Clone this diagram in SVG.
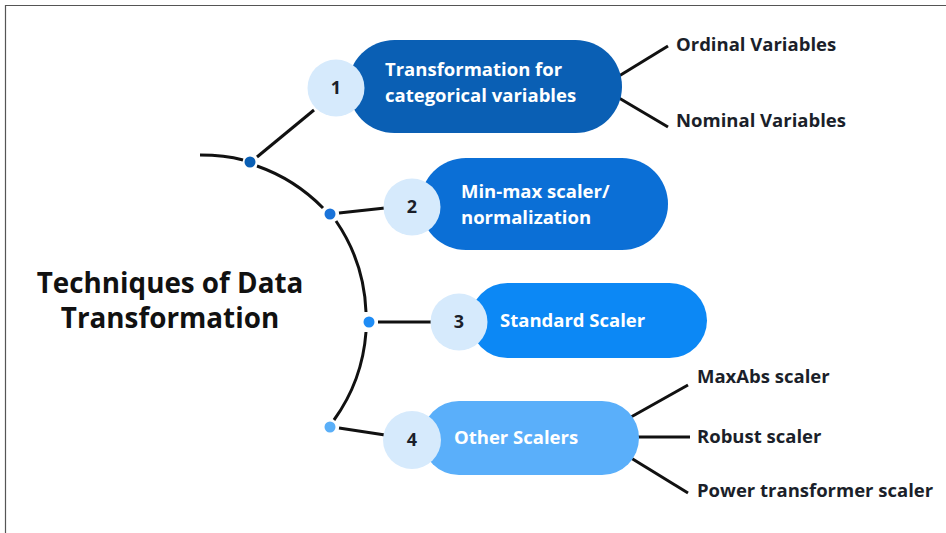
<svg xmlns="http://www.w3.org/2000/svg" width="946" height="533" viewBox="0 0 946 533">
  <style>
    .frame { fill: none; stroke: #555; stroke-width: 1.2; }
    .wire { fill: none; stroke: #111; stroke-width: 3; stroke-linecap: butt; }
    .badge { fill: #d6eafc; }
    .num { font-family: "Open Sans", "Noto Sans", sans-serif; font-weight: 700; font-size: 18px; fill: #1b1f2a; text-anchor: middle; }
    .pill-text { font-family: "Open Sans", "Noto Sans", sans-serif; font-weight: 700; font-size: 18.5px; fill: #ffffff; }
    .leaf { font-family: "Open Sans", "Noto Sans", sans-serif; font-weight: 700; font-size: 18.5px; fill: #1b1f2a; }
    .title { font-family: "Open Sans", "Noto Sans", sans-serif; font-weight: 700; font-size: 27.8px; fill: #111; text-anchor: middle; }
  </style>

  <rect width="946" height="533" fill="#ffffff"/>
  <path class="frame" d="M5.5 533 V5.5 H946"/>

  <!-- spine and branch connectors -->
  <g id="connectors">
    <path class="wire" d="M200 155 Q225 155 243 160"/>
    <path class="wire" d="M257 166 A172 172 0 0 1 323 208"/>
    <path class="wire" d="M336 221 A172 172 0 0 1 366 312"/>
    <path class="wire" d="M366 332 A172 172 0 0 1 334 420"/>
    <line class="wire" x1="257" y1="157" x2="314" y2="110"/>
    <line class="wire" x1="339" y1="213" x2="385" y2="208"/>
    <line class="wire" x1="378" y1="322" x2="432" y2="322"/>
    <line class="wire" x1="339" y1="428" x2="385" y2="435"/>
    <line class="wire" x1="619" y1="76" x2="668" y2="46"/>
    <line class="wire" x1="619" y1="98" x2="668" y2="127"/>
    <line class="wire" x1="631" y1="417" x2="688" y2="385"/>
    <line class="wire" x1="636" y1="437" x2="690" y2="437"/>
    <line class="wire" x1="631" y1="458" x2="688" y2="493"/>
  </g>

  <g id="title">
    <text class="title" x="170" y="293">Techniques of Data</text>
    <text class="title" x="170" y="328">Transformation</text>
  </g>

  <g id="dots">
    <circle cx="250" cy="162" r="5.5" fill="#0a5fb4"/>
    <circle cx="330" cy="214" r="5.5" fill="#1a73d9"/>
    <circle cx="369" cy="322" r="5.5" fill="#1e8cf5"/>
    <circle cx="330" cy="427" r="5.5" fill="#5aaff8"/>
  </g>

  <g id="node-1">
    <rect x="348" y="40" width="274" height="93" rx="46.5" fill="#0a5fb4"/>
    <circle class="badge" cx="336" cy="88" r="28.5"/>
    <text class="num" x="336" y="94">1</text>
    <text class="pill-text" x="385" y="76">Transformation for</text>
    <text class="pill-text" x="385" y="102">categorical variables</text>
  </g>

  <g id="node-2">
    <rect x="420" y="158" width="248" height="92" rx="46" fill="#0b6fd6"/>
    <circle class="badge" cx="412" cy="207" r="28.5"/>
    <text class="num" x="412" y="213">2</text>
    <text class="pill-text" x="461" y="198">Min-max scaler/</text>
    <text class="pill-text" x="461" y="224">normalization</text>
  </g>

  <g id="node-3">
    <rect x="470" y="283" width="237" height="75" rx="37.5" fill="#0c88f5"/>
    <circle class="badge" cx="459" cy="322" r="28.5"/>
    <text class="num" x="459" y="328">3</text>
    <text class="pill-text" x="500" y="327">Standard Scaler</text>
  </g>

  <g id="node-4">
    <rect x="422" y="401" width="217" height="74" rx="37" fill="#5aaffa"/>
    <circle class="badge" cx="412" cy="440" r="29"/>
    <text class="num" x="412" y="446">4</text>
    <text class="pill-text" x="454" y="444">Other Scalers</text>
  </g>

  <g id="leaf-ordinal"><text class="leaf" x="676" y="51">Ordinal Variables</text></g>
  <g id="leaf-nominal"><text class="leaf" x="676" y="127">Nominal Variables</text></g>
  <g id="leaf-maxabs"><text class="leaf" x="697" y="383">MaxAbs scaler</text></g>
  <g id="leaf-robust"><text class="leaf" x="697" y="443">Robust scaler</text></g>
  <g id="leaf-power"><text class="leaf" x="697" y="497">Power transformer scaler</text></g>
</svg>
